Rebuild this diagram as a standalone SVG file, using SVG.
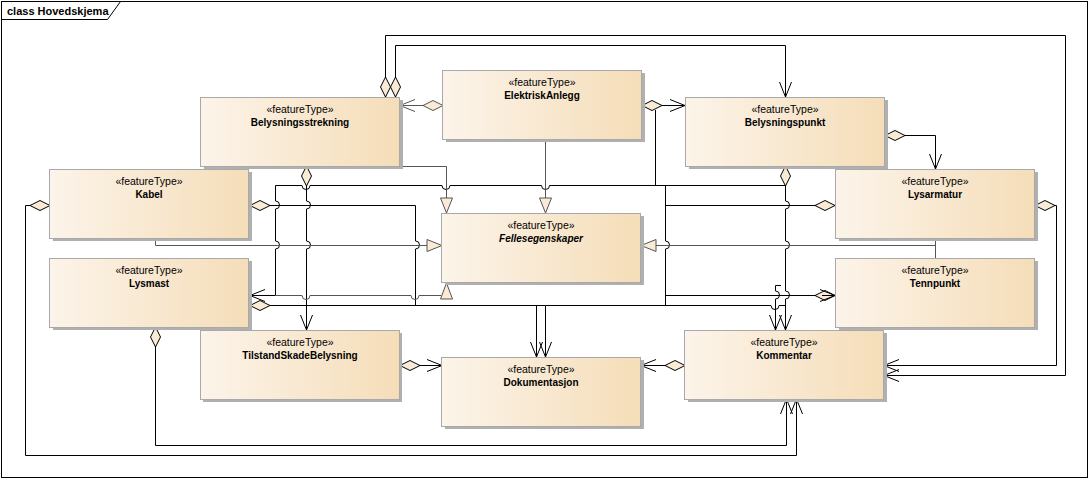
<svg xmlns="http://www.w3.org/2000/svg" width="1090" height="480" viewBox="0 0 1090 480">
<style>
text{font-family:"Liberation Sans",Arial,sans-serif;fill:#000;text-anchor:middle}
.st{font-size:10.5px}
.nm{font-size:10px;font-weight:bold}
.it{font-style:italic}
.box{fill:url(#grad);stroke:#A9A9A9;stroke-width:1}
.sh{fill:#B0B0B0}
.a{fill:none;stroke:#000;stroke-width:1}
.ag{fill:none;stroke:#555;stroke-width:1}
.g{fill:none;stroke:#555;stroke-width:1}
.dm{marker-start:url(#dia)}
.ar{marker-end:url(#arr)}
.tri{marker-end:url(#tri)}
</style>
<defs>
<linearGradient id="grad" x1="0" y1="0" x2="1" y2="0">
<stop offset="0" stop-color="#FCF4EA"/>
<stop offset="1" stop-color="#F5DDB8"/>
</linearGradient>
<marker id="dia" markerUnits="userSpaceOnUse" markerWidth="22" markerHeight="12" viewBox="-1 -6 22 12" refX="0" refY="0" orient="auto" overflow="visible">
<path d="M0,0 L10,-5 L20,0 L10,5 Z" fill="#FAEBD6" stroke="#000" stroke-width="1"/>
</marker>
<marker id="diag" markerUnits="userSpaceOnUse" markerWidth="22" markerHeight="12" viewBox="-1 -6 22 12" refX="0" refY="0" orient="auto" overflow="visible">
<path d="M0,0 L10,-5 L20,0 L10,5 Z" fill="#FAEBD6" stroke="#555" stroke-width="1"/>
</marker>
<marker id="arr" markerUnits="userSpaceOnUse" markerWidth="17" markerHeight="14" viewBox="-16 -7 17 14" refX="0" refY="0" orient="auto" overflow="visible">
<path d="M-15,-6 L0,0 L-15,6" fill="none" stroke="#000" stroke-width="1"/>
</marker>
<marker id="arrg" markerUnits="userSpaceOnUse" markerWidth="17" markerHeight="14" viewBox="-16 -7 17 14" refX="0" refY="0" orient="auto" overflow="visible">
<path d="M-15,-6 L0,0 L-15,6" fill="none" stroke="#555" stroke-width="1"/>
</marker>
<marker id="tri" markerUnits="userSpaceOnUse" markerWidth="17" markerHeight="14" viewBox="-16 -7 17 14" refX="0" refY="0" orient="auto" overflow="visible">
<path d="M-15,-6 L0,0 L-15,6 Z" fill="#FAEBD6" stroke="#555" stroke-width="1"/>
</marker>
</defs>
<rect x="0" y="0" width="1090" height="480" fill="#fff"/>
<g id="frame">
<rect x="1.5" y="1.5" width="1086" height="476" fill="none" stroke="#000" stroke-width="1"/>
<path d="M1.5,19.5 H107.5 L120.5,1.5" fill="none" stroke="#000" stroke-width="1"/>
<text x="7" y="15" style="font-size:11px;font-weight:bold;text-anchor:start">class Hovedskjema</text>
</g>
<g id="connectors">
<path class="a dm ar" d="M385.5,97 V35.5 H1065.5 V375.5 H884"/>
<path class="a dm ar" d="M395.5,97 V45.5 H785.5 V97"/>
<path class="ag" style="marker-start:url(#diag);marker-end:url(#arrg)" d="M443,105.5 H400"/>
<path class="a dm ar" d="M642,105.5 H685"/>
<path class="a" d="M655.5,110 V185.5"/>
<path class="a dm ar" d="M885,135.5 H935.5 V169"/>
<path class="a dm ar" d="M785.5,166 V201 A4,4 0 0 1 785.5,209 V241 A4,4 0 0 1 785.5,249 V291 A4,4 0 0 1 785.5,299 V330"/>
<path class="a ar" d="M785.5,185.5 H549.5 A4,4 0 0 1 541.5,185.5 H450 A4,4 0 0 1 442,185.5 H310 A4,4 0 0 1 302,185.5 H275.5 V201 A4,4 0 0 1 275.5,209 V241 A4,4 0 0 1 275.5,249 V295.5 H250"/>
<path class="a dm ar" d="M306.5,166 V201 A4,4 0 0 1 306.5,209 V241 A4,4 0 0 1 306.5,249 V330"/>
<path class="a dm ar" d="M250,205.5 H415.5 V241 A4,4 0 0 1 415.5,249 V305.5 H536.5 V357"/>
<path class="a dm ar" d="M250,305.5 H545.5 V357"/>
<path class="a" d="M545.5,305.5 H771 A4,4 0 0 0 779,305.5 H785.5"/>
<path class="a dm" d="M835,205.5 H665.5"/>
<path class="a" d="M665.5,185.5 V241 A4,4 0 0 1 665.5,249 V305.5"/>
<path class="a dm" d="M835,295.5 H665.5"/>
<path class="a ar" d="M822,295.5 H835"/>
<path class="a ar" d="M781,285.5 H775.5 V291 A4,4 0 0 1 775.5,299 V330"/>
<path class="a dm ar" d="M1035,205.5 H1056.5 V365.5 H884"/>
<path class="a dm ar" d="M50,205.5 H25.5 V455.5 H796.5 V399"/>
<path class="a dm ar" d="M155.5,327 V445.5 H786.5 V399"/>
<path class="a dm ar" d="M400,365.5 H442"/>
<path class="a dm ar" d="M685,365.5 H641"/>
<path class="g tri" d="M305.5,166.5 H446.5 V213"/>
<path class="g tri" d="M545.5,139 V213"/>
<path class="g tri" d="M155.5,238 V245.5 H442"/>
<path class="g" d="M275.5,295.5 H302 A4,4 0 0 0 310,295.5 H411 A4,4 0 0 0 419,295.5 H441"/>
<polygon points="446.5,283 440.5,299 452.5,299" fill="#FAEBD6" stroke="#555" stroke-width="1"/>
<path class="g" d="M935.5,238 V258"/>
<path class="g tri" d="M935.5,245.5 H641"/>
</g>
<g id="Belysningsstrekning"><rect class="sh" x="204" y="100" width="199" height="69"/><rect class="box" x="200.5" y="97.5" width="199" height="69"/><text class="st" x="300" y="113">«featureType»</text><text class="nm" x="300" y="126">Belysningsstrekning</text></g>
<g id="ElektriskAnlegg"><rect class="sh" x="446" y="73" width="199" height="69"/><rect class="box" x="442.5" y="70.5" width="199" height="69"/><text class="st" x="542" y="86">«featureType»</text><text class="nm" x="542" y="99">ElektriskAnlegg</text></g>
<g id="Belysningspunkt"><rect class="sh" x="689" y="100" width="199" height="69"/><rect class="box" x="685.5" y="97.5" width="199" height="69"/><text class="st" x="785" y="113">«featureType»</text><text class="nm" x="785" y="126">Belysningspunkt</text></g>
<g id="Kabel"><rect class="sh" x="53" y="172" width="199" height="69"/><rect class="box" x="49.5" y="169.5" width="199" height="69"/><text class="st" x="149" y="185">«featureType»</text><text class="nm" x="149" y="198">Kabel</text></g>
<g id="Fellesegenskaper"><rect class="sh" x="445" y="216" width="199" height="69"/><rect class="box" x="441.5" y="213.5" width="199" height="69"/><text class="st" x="541" y="229">«featureType»</text><text class="nm it" x="541" y="242">Fellesegenskaper</text></g>
<g id="Lysarmatur"><rect class="sh" x="839" y="172" width="199" height="69"/><rect class="box" x="835.5" y="169.5" width="199" height="69"/><text class="st" x="935" y="185">«featureType»</text><text class="nm" x="935" y="198">Lysarmatur</text></g>
<g id="Lysmast"><rect class="sh" x="53" y="261" width="199" height="69"/><rect class="box" x="49.5" y="258.5" width="199" height="69"/><text class="st" x="149" y="274">«featureType»</text><text class="nm" x="149" y="287">Lysmast</text></g>
<g id="Tennpunkt"><rect class="sh" x="839" y="261" width="199" height="69"/><rect class="box" x="835.5" y="258.5" width="199" height="69"/><text class="st" x="935" y="274">«featureType»</text><text class="nm" x="935" y="287">Tennpunkt</text></g>
<g id="TilstandSkadeBelysning"><rect class="sh" x="203" y="333" width="199" height="69"/><rect class="box" x="200.5" y="330.5" width="199" height="69"/><text class="st" x="300" y="346">«featureType»</text><text class="nm" x="300" y="359">TilstandSkadeBelysning</text></g>
<g id="Dokumentasjon"><rect class="sh" x="445" y="360" width="199" height="69"/><rect class="box" x="441.5" y="357.5" width="199" height="69"/><text class="st" x="541" y="373">«featureType»</text><text class="nm" x="541" y="386">Dokumentasjon</text></g>
<g id="Kommentar"><rect class="sh" x="688" y="333" width="199" height="69"/><rect class="box" x="684.5" y="330.5" width="199" height="69"/><text class="st" x="784" y="346">«featureType»</text><text class="nm" x="784" y="359">Kommentar</text></g>
</svg>
